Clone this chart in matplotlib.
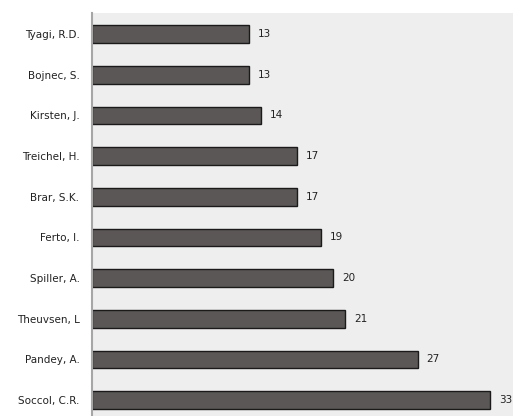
import matplotlib.pyplot as plt

authors = ["Soccol, C.R.", "Pandey, A.", "Theuvsen, L", "Spiller, A.", "Ferto, I.",
           "Brar, S.K.", "Treichel, H.", "Kirsten, J.", "Bojnec, S.", "Tyagi, R.D."]
counts = [33, 27, 21, 20, 19, 17, 17, 14, 13, 13]

fig = plt.figure(figsize=(5.13, 4.16), dpi=100)
ax = fig.add_axes([92 / 513, 0, 1 - 92 / 513, 403 / 416])
ax.set_facecolor("#eeeeee")

ypos = list(range(len(authors)))
ax.barh(ypos, counts, height=0.44, color="#5b5756", edgecolor="#1a1a1a", linewidth=1.0)

for y, c in zip(ypos, counts):
    ax.text(c + 0.75, y, str(c), va="center", ha="left", fontsize=7.5, color="#222222")

ax.set_yticks(ypos)
ax.set_yticklabels(authors, fontsize=7.5, color="#222222")
ax.set_xlim(0, 34.9)
ax.set_ylim(-0.39, 9.52)
ax.set_xticks([])
ax.tick_params(axis="y", length=0, pad=9)
for s in ["top", "right", "bottom"]:
    ax.spines[s].set_visible(False)
ax.spines["left"].set_color("#a6a6a6")
ax.spines["left"].set_linewidth(1.5)

fig.savefig("out.png", dpi=100)
